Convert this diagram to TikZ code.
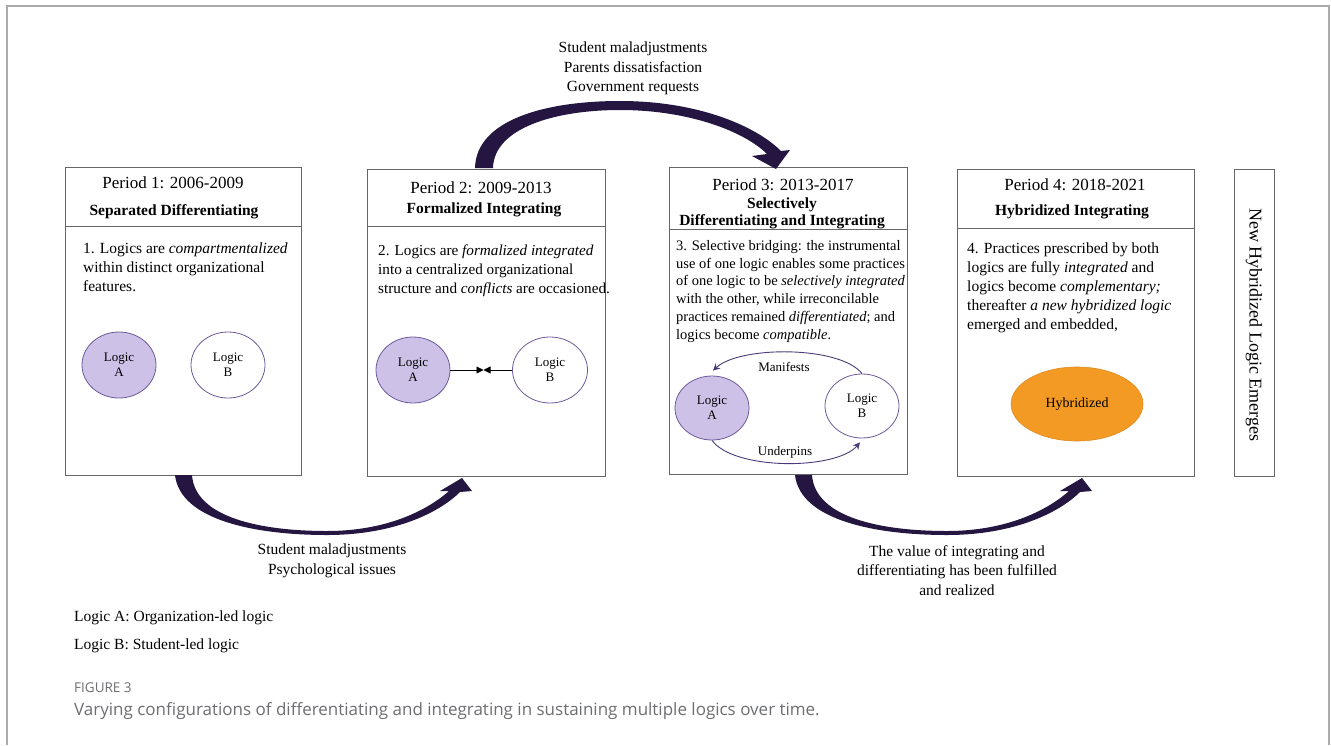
\documentclass[tikz,border=0pt]{standalone}
\usepackage{fontspec}
\setmainfont{Liberation Serif}
\newfontfamily\capfont{Open Sans}
\usetikzlibrary{shapes.geometric,arrows.meta,calc}
\definecolor{arrowc}{HTML}{241640}
\definecolor{lavender}{HTML}{CEC1E8}
\definecolor{ellbord}{HTML}{6E5A9A}
\definecolor{hybfill}{HTML}{F39A25}
\definecolor{hybbord}{HTML}{E0891C}
\definecolor{boxc}{HTML}{666666}
\definecolor{framec}{HTML}{AAAAAA}
\definecolor{capc}{HTML}{6D6E71}
\definecolor{cycc}{HTML}{4A3A78}
\tikzset{
  pbox/.style={draw=boxc, line width=1pt, rectangle, inner sep=0pt},
  ttl/.style={font=\fontsize{17}{20}\selectfont, inner sep=0pt},
  subttl/.style={font=\bfseries\fontsize{15.5}{17}\selectfont, inner sep=0pt, align=center},
  bodytxt/.style={font=\fontsize{15.5}{19}\selectfont, inner sep=0pt, align=left, anchor=north west},
  ella/.style={ellipse, draw=ellbord, line width=0.8pt, fill=lavender, inner sep=0pt, align=center, font=\fontsize{13}{15}\selectfont},
  ellw/.style={ellipse, draw=ellbord, line width=0.8pt, fill=white, inner sep=0pt, align=center, font=\fontsize{13}{15}\selectfont},
  conf/.style={black, line width=0.8pt, -{Triangle[length=7pt,width=7pt]}},
  cyc/.style={cycc, line width=0.9pt, -{Stealth[length=7pt,width=7pt]}},
  lbl/.style={font=\fontsize{13}{15}\selectfont, inner sep=0pt},
  ftxt/.style={font=\fontsize{15.5}{19.5}\selectfont, inner sep=0pt, align=center},
  bigarrow/.style={fill=arrowc}
}
\begin{document}
\begin{tikzpicture}[x=1pt,y=-1pt]
\useasboundingbox (0,0) rectangle (1331,745);
% outer frame
\draw[framec, line width=1.5pt] (7,745) -- (7,6) -- (1329,6) -- (1329,745);

% period boxes
\node[pbox, minimum width=236pt, minimum height=308pt] (p1) at (183,321) {};
\node[pbox, minimum width=238pt, minimum height=307pt] (p2) at (486,322.5) {};
\node[pbox, minimum width=238pt, minimum height=307pt] (p3) at (788,320.5) {};
\node[pbox, minimum width=237pt, minimum height=307pt] (p4) at (1075.5,322.5) {};
\node[pbox, minimum width=40pt, minimum height=307pt] (p5) at (1254,322.5) {};

% header dividers
\draw[boxc, line width=1pt] (p1.west |- 0,226) -- (p1.east |- 0,226);
\draw[boxc, line width=1pt] (p2.west |- 0,226) -- (p2.east |- 0,226);
\draw[boxc, line width=1pt] (p3.west |- 0,229) -- (p3.east |- 0,229);
\draw[boxc, line width=1pt] (p4.west |- 0,228) -- (p4.east |- 0,228);

% headers
\node[ttl] (t1) at (173,183) {Period 1: 2006-2009};
\node[subttl] (s1) at (174,212) {Separated Differentiating};
\node[ttl] (t2) at (481,188) {Period 2: 2009-2013};
\node[subttl] (s2) at (484,210) {Formalized Integrating};
\node[ttl] (t3) at (783,185) {Period 3: 2013-2017};
\node[subttl] (s3) at (782,213) {Selectively\\Differentiating and Integrating};
\node[ttl] (t4) at (1075,185) {Period 4: 2018-2021};
\node[subttl] (s4) at (1072,212) {Hybridized Integrating};

% body texts
\node[bodytxt] (d1) at (83,243) {1. Logics are \textit{compartmentalized}\\within distinct organizational\\features.};
\node[bodytxt, font=\fontsize{15.2}{19}\selectfont] (d2) at (378,245) {2. Logics are \textit{formalized integrated}\\into a centralized organizational\\structure and \textit{conflicts} are occasioned.};
\node[bodytxt, font=\fontsize{14.5}{17.8}\selectfont] (d3) at (676,240) {3. Selective bridging: the instrumental\\use of one logic enables some practices\\of one logic to be \textit{selectively integrated}\\with the other, while irreconcilable\\practices remained \textit{differentiated}; and\\logics become \textit{compatible}.};
\node[bodytxt] (d4) at (967,243) {4. Practices prescribed by both\\logics are fully \textit{integrated} and\\logics become \textit{complementary;}\\thereafter \textit{a new hybridized logic}\\emerged and embedded,};

% logic ellipses
\node[ella, minimum width=74pt, minimum height=66pt] (a1) at (119,365) {Logic\\A};
\node[ellw, minimum width=74pt, minimum height=66pt] (b1) at (228,365) {Logic\\B};
\node[ella, minimum width=74pt, minimum height=66pt] (a2) at (413,370) {Logic\\A};
\node[ellw, minimum width=75pt, minimum height=66pt] (b2) at (550,370) {Logic\\B};
\node[ella, minimum width=74pt, minimum height=64pt] (a3) at (712,408) {Logic\\A};
\node[ellw, minimum width=74pt, minimum height=64pt] (b3) at (862,406) {Logic\\B};
\node[ellipse, draw=hybbord, line width=0.6pt, fill=hybfill, inner sep=0pt, minimum width=132pt, minimum height=74pt, font=\fontsize{14}{16}\selectfont] (h4) at (1077,404) {Hybridized};

% conflict arrows
\coordinate (m2) at (483.5,370);
\draw[conf] (a2.east) -- (m2);
\draw[conf] (b2.west) -- (m2);

% manifests / underpins
\coordinate (atop) at ($(a3.north)+(1,-5)$);
\coordinate (bbot) at ($(b3.south)+(-2,4)$);
\draw[cyc] (b3.north) .. controls +(-22,-28) and +(27,-25) .. (atop);
\draw[cyc] (a3.south) .. controls +(22,30) and +(-24,28) .. (bbot);
\node[lbl] (man) at (784,367) {Manifests};
\node[lbl] (und) at (785,452) {Underpins};

% vertical label
\node[rotate=-90, inner sep=0pt, font=\fontsize{18}{20}\selectfont] (emerg) at (1254,325) {New Hybridized Logic Emerges};

% big curved arrows
\fill[bigarrow] (475,168) .. controls (476,120) and (545,101) .. (620,101)
  .. controls (700,101) and (757,127) .. (781,151) -- (790,150) -- (776,169) -- (752,156) -- (767,154)
  .. controls (745,132) and (690,110) .. (620,110)
  .. controls (555,110) and (494,128) .. (493,168) -- cycle;
\fill[bigarrow] (175,475) .. controls (180,520) and (255,535) .. (327,535)
  .. controls (395,535) and (440,512) .. (460,492) -- (472,491) -- (462,478) -- (440,491) -- (449,491)
  .. controls (430,508) and (390,531) .. (327,531)
  .. controls (262,531) and (195,518) .. (192,475) -- cycle;
\begin{scope}[xshift=620pt]
\fill[bigarrow] (175,475) .. controls (180,520) and (255,535) .. (327,535)
  .. controls (395,535) and (440,512) .. (460,492) -- (472,491) -- (462,478) -- (440,491) -- (449,491)
  .. controls (430,508) and (390,531) .. (327,531)
  .. controls (262,531) and (195,518) .. (192,475) -- cycle;
\end{scope}

% free texts
\node[ftxt] (toplbl) at (633,68.5) {Student maladjustments\\Parents dissatisfaction\\Government requests};
\node[ftxt] (bot1) at (332,561) {Student maladjustments\\Psychological issues};
\node[ftxt] (bot2) at (957,570.5) {The value of integrating and\\differentiating has been fulfilled\\and realized};

% legend
\node[anchor=west, inner sep=0pt, font=\fontsize{15.5}{18}\selectfont] (lega) at (74,618) {Logic A: Organization-led logic};
\node[anchor=west, inner sep=0pt, font=\fontsize{15.5}{18}\selectfont] (legb) at (74,646) {Logic B: Student-led logic};

% caption
\node[anchor=west, inner sep=0pt, text=capc, font=\capfont\fontsize{13.5}{15}\selectfont] (figno) at (74,688) {FIGURE 3};
\node[anchor=west, inner sep=0pt, text=capc, font=\capfont\fontsize{17}{20}\selectfont] (cap) at (74,711) {Varying configurations of differentiating and integrating in sustaining multiple logics over time.};
\end{tikzpicture}
\end{document}
